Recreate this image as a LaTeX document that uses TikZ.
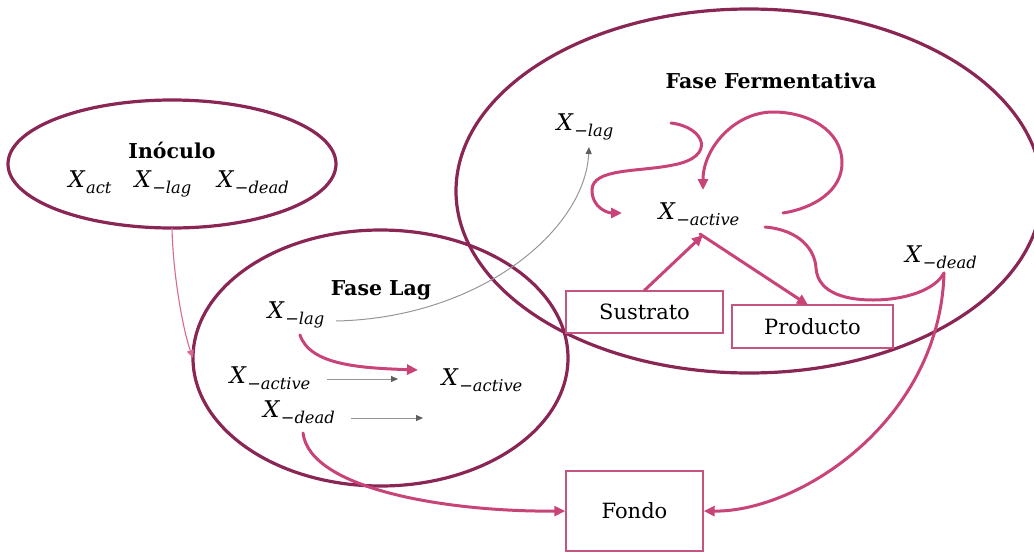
\documentclass[tikz,border=0pt]{standalone}
\usepackage{fontspec}
\setmainfont{DejaVu Serif}
\usetikzlibrary{shapes.geometric,arrows.meta}

\definecolor{phase}{RGB}{138,38,84}
\definecolor{flow}{RGB}{200,68,120}
\definecolor{boxline}{RGB}{196,84,128}
\definecolor{feed}{RGB}{216,104,148}
\definecolor{weak}{RGB}{150,150,150}
\definecolor{weaktip}{RGB}{95,95,95}

% biomass symbol: italic X with a lowered italic index
\newcommand\xlab[1]{\textit{X}\kern0.5pt\raisebox{-0.3em}{\fontsize{16.3}{18}\selectfont\textit{#1}}}

\begin{document}
\begin{tikzpicture}[x=1pt,y=-1pt,
  phase/.style={draw=phase, line width=3.2pt, ellipse, inner sep=0pt, outer sep=0pt},
  lbl/.style={anchor=base, inner sep=0pt, font=\fontsize{23}{26}\selectfont},
  title/.style={anchor=base, inner sep=0pt, font=\fontsize{20.5}{23}\selectfont\bfseries},
  stock/.style={draw=boxline, line width=1.4pt, fill=white, inner sep=0pt,
                font=\fontsize{21}{24}\selectfont},
  flowarrow/.style={draw=flow, line width=3pt, line cap=round,
                    -{Triangle[length=11pt,width=10pt]}},
  flowline/.style={draw=flow, line width=3pt, line cap=round},
  feedarrow/.style={draw=feed, line width=1.1pt, -{Triangle[length=8pt,width=7pt]}},
  weakarrow/.style={draw=weak, line width=1pt,
                    -{Triangle[length=7pt,width=6pt,color=weaktip]}}
]
\useasboundingbox (0,0) rectangle (1034,552);

% phases
\node[phase, minimum width=328pt, minimum height=128pt] (inoculo) at (172,164) {};
\node[phase, minimum width=375pt, minimum height=256pt] (lag) at (380.5,358) {};
\node[phase, minimum width=586pt, minimum height=364pt] (ferm) at (749,191) {};

% inoculum
\node[title] (inoT) at (172,158) {Inóculo};
\node[lbl] (inoAct) at (90,187) {\xlab{act}};
\node[lbl] (inoLag) at (163,187) {\xlab{−lag}};
\node[lbl] (inoDead) at (253,187) {\xlab{−dead}};

% lag phase
\node[title] (lagT) at (381,295) {Fase Lag};
\node[lbl] (lagLag) at (296,318) {\xlab{−lag}};
\node[lbl] (lagActL) at (270,383) {\xlab{−active}};
\node[lbl] (lagActR) at (482,385) {\xlab{−active}};
\node[lbl] (lagDead) at (299,417) {\xlab{−dead}};

% fermentative phase
\node[title] (fermT) at (771,88) {Fase Fermentativa};
\node[lbl] (fermLag) at (585,130) {\xlab{−lag}};
\node[lbl] (fermAct) at (699,219) {\xlab{−active}};
\node[lbl] (fermDead) at (941,262) {\xlab{−dead}};

% stocks
\node[stock, minimum width=157pt, minimum height=42pt] (sus) at (644.5,312) {Sustrato};
\node[stock, minimum width=161pt, minimum height=43pt] (prod) at (812.5,326.5) {Producto};
\node[stock, minimum width=137pt, minimum height=80pt] (fondo) at (634.5,511) {Fondo};

% connector ends next to the labels
\coordinate (lagLagOut) at (336,321);
\coordinate (lagLagDown) at (300,335);
\coordinate (lagActIn) at (418,370);
\coordinate (lagActOut) at (327,379);
\coordinate (lagActTo) at (398,379);
\coordinate (lagDeadOut) at (351,418);
\coordinate (lagDeadTo) at (423,418);
\coordinate (lagDeadDown) at (303,433);
\coordinate (fermLagIn) at (589,147);
\coordinate (fermLagOut) at (671,123);
\coordinate (fermActIn) at (622,213);
\coordinate (fermActTop) at (703,190);
\coordinate (fermActRight) at (783,213);
\coordinate (fermActLow) at (765,227);
\coordinate (fermActBottom) at (703,235);
\coordinate (fermActBottomOut) at (700,234);
\coordinate (prodIn) at (808,305);
\coordinate (fermDeadFoot) at (944,273);

% inoculum feeds the lag phase
\draw[feedarrow] (inoculo.south) .. controls (173,275) and (183,330) .. (lag.west);

% lag phase transitions
\draw[weakarrow] (lagLagOut) .. controls (480,318) and (585,230) .. (fermLagIn);
\draw[flowarrow] (lagLagDown) .. controls (310,365) and (360,368) .. (lagActIn);
\draw[weakarrow] (lagActOut) -- (lagActTo);
\draw[weakarrow] (lagDeadOut) -- (lagDeadTo);
\draw[flowarrow] (lagDeadDown) .. controls (310,490) and (450,512) .. (fondo.west);

% fermentative phase transitions
\draw[flowarrow] (fermLagOut) .. controls (705,127) and (717,157) .. (673,165)
  .. controls (640,172) and (592,168) .. (592,190)
  .. controls (592,208) and (608,213) .. (fermActIn);
\draw[flowarrow] (fermActRight) .. controls (815,208) and (842,190) .. (842,163)
  .. controls (842,130) and (808,112) .. (773,112)
  .. controls (735,112) and (703,148) .. (fermActTop);
\draw[flowline] (fermActLow) .. controls (800,230) and (815,250) .. (816,268)
  .. controls (818,295) and (850,300) .. (873,300)
  .. controls (905,300) and (935,290) .. (fermDeadFoot);
\draw[flowarrow] (fermDeadFoot) .. controls (940,420) and (800,512) .. (fondo.east);
\draw[flowarrow] (sus.north) -- (fermActBottom);
\draw[flowarrow] (fermActBottomOut) -- (prodIn);
\end{tikzpicture}
\end{document}
